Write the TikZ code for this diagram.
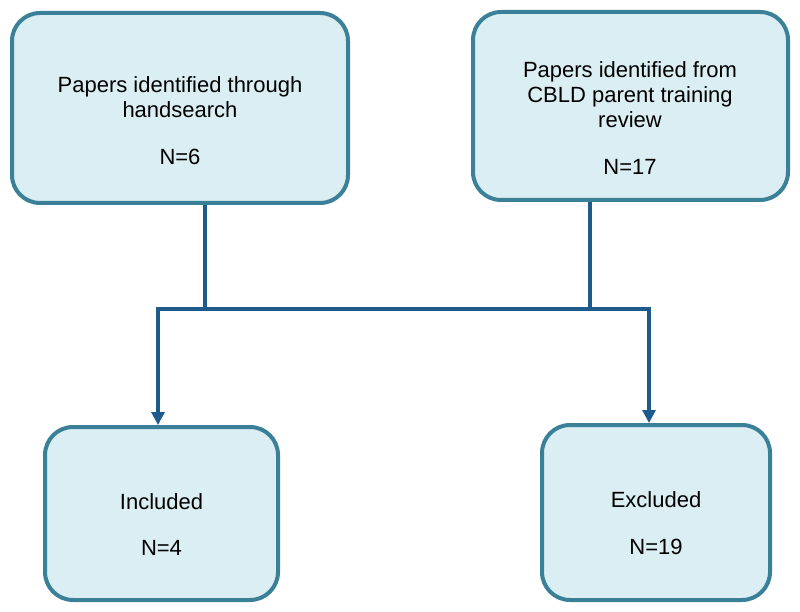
\documentclass[tikz,border=0pt]{standalone}
\usepackage{fontspec}
\setmainfont{Liberation Sans}
\usetikzlibrary{arrows.meta}
\definecolor{boxedge}{HTML}{3A8099}
\definecolor{boxfill}{HTML}{DAEEF3}
\definecolor{linkc}{HTML}{1F5A8C}
\begin{document}
\begin{tikzpicture}[x=1pt,y=-1pt,
  box/.style={draw=boxedge, fill=boxfill, line width=4pt, rounded corners=28pt, inner sep=0pt},
  txt/.style={align=center, font=\fontsize{22}{25}\selectfont, inner sep=0pt, text=black},
  link/.style={draw=linkc, line width=3.1pt},
  arr/.style={link, -{Triangle[width=13pt,length=13pt]}}]
\useasboundingbox (0,0) rectangle (800,612);
\fill[white] (0,0) rectangle (800,612);

\node[box, minimum width=336pt, minimum height=190pt] (b1) at (180,108) {};
\node[box, minimum width=315pt, minimum height=188pt] (b2) at (630.5,106) {};
\node[box, minimum width=233pt, minimum height=173pt] (b3) at (161.5,513.5) {};
\node[box, minimum width=228pt, minimum height=175pt] (b4) at (656,512.5) {};

\node[txt] (t1) at (180,121) {Papers identified through\\handsearch\\[22pt]N=6};
\node[txt] (t2) at (630,118) {Papers identified from\\CBLD parent training\\review\\[22pt]N=17};
\node[txt] (t3) at (161.5,525) {Included\\[21pt]N=4};
\node[txt] (t4) at (656,523) {Excluded\\[22pt]N=19};

\coordinate (j1) at (205,309);
\coordinate (j2) at (590,309);
\coordinate (hl) at (158,309);
\coordinate (hr) at (649,309);

\draw[link] (b1.south -| j1) -- (j1);
\draw[link] (b2.south -| j2) -- (j2);
\draw[arr] (hr) -- (hl) -- (hl |- b3.north);
\draw[arr] (hl) -- (hr) -- (hr |- b4.north);
\end{tikzpicture}
\end{document}
